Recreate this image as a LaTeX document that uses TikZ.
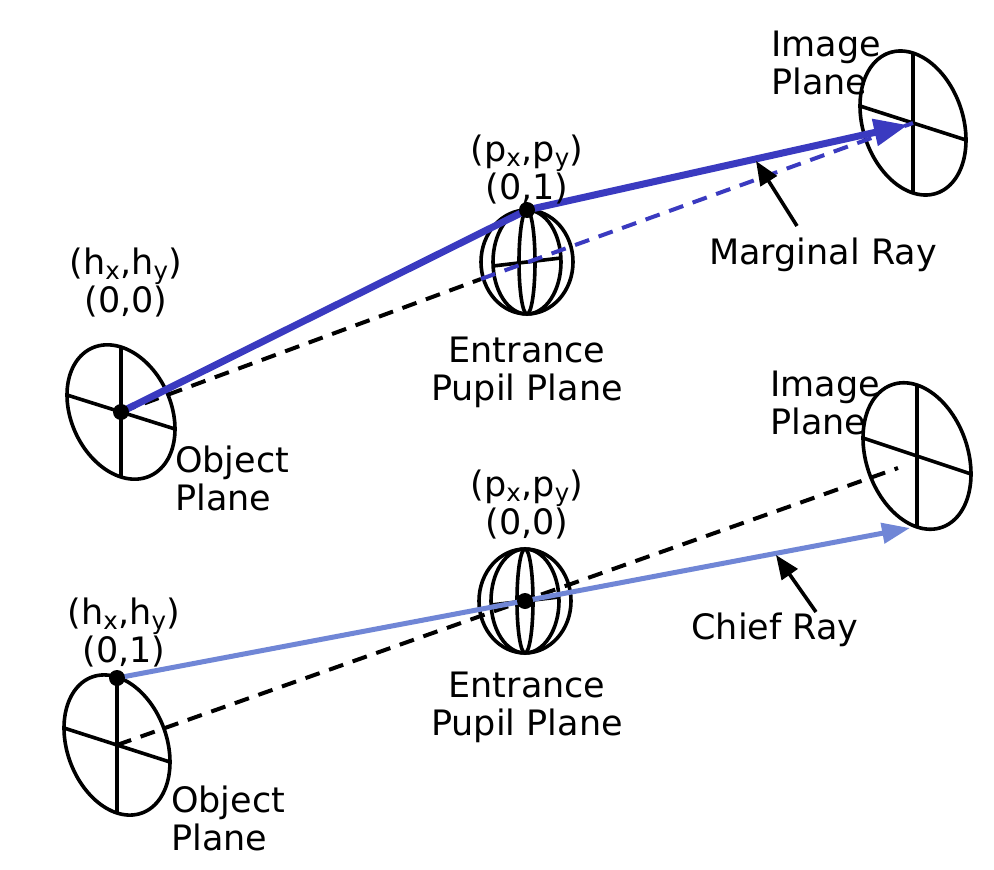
\documentclass[tikz,border=0pt]{standalone}
\usepackage{fontspec}
\setmainfont{DejaVu Sans}
\usetikzlibrary{positioning}
\usetikzlibrary{arrows.meta}
\definecolor{marginalblue}{RGB}{58,58,192}
\definecolor{chiefblue}{RGB}{112,134,214}
\tikzstyle{plane} = [draw, line width=3.6pt]
\tikzstyle{dot} = [circle, fill=black, inner sep=0pt, minimum size=16pt]
\tikzstyle{txt} = [font=\fontsize{35}{38}\selectfont, inner sep=0pt]
\tikzstyle{axis} = [draw, line width=4pt, dash pattern=on 15pt off 10pt]
\tikzstyle{marginal} = [draw=marginalblue, line width=7pt, -{Triangle[length=34pt,width=26pt]}]
\tikzstyle{chief} = [draw=chiefblue, line width=5pt, -{Triangle[length=28pt,width=20pt]}]
\tikzstyle{pointer} = [draw, line width=3.6pt, -{Triangle[length=24pt,width=19pt]}]
\tikzset{
  pics/disk/.style args={#1/#2/#3}{code={
    \draw[plane] plot[domain=0:354,samples=60,smooth cycle,variable=\t] ({#1*cos(\t)},{#2*cos(\t)-#3*sin(\t)});
    \draw[plane] (0,-#3) -- (0,#3) (-#1,-#2) -- (#1,#2);
  }},
  pics/pupil/.style={code={
    \foreach \rx in {46,34,8}
      \draw[plane] (0,0) ellipse [x radius=\rx, y radius=52];
    \draw[plane] (-34,4) -- (34,-4);
  }}
}

\begin{document}
\begin{tikzpicture}[x=1pt,y=-1pt]
    \fill[white] (0,0) rectangle (994,870);
    \useasboundingbox (0,0) rectangle (994,870);

    % marginal ray case
    \coordinate (o1) at (121,412);
    \coordinate (p1) at (527,262);
    \coordinate (p1top) at (527,210);
    \coordinate (p1in) at (481,279);
    \coordinate (i1) at (913,123);
    \coordinate (i1tip) at (908,125);
    \pic at (o1) {disk=54/17/65};
    \pic at (p1) {pupil};
    \pic at (i1) {disk=53/17/70};

    \draw [axis] (o1) -- (p1in);
    \draw [axis, marginalblue] (p1in) -- (i1);
    \draw [marginal] (o1) -- (p1top) -- (i1tip);
    \node [dot] (o1dot) at (o1) {};
    \node [dot] (p1dot) at (p1top) {};

    \node [txt, align=center] (o1lab) at (126,283) {(h\textsubscript{x},h\textsubscript{y})\\(0,0)};
    \node [txt, align=left, anchor=west] (o1name) at (175,478) {Object\\Plane};
    \node [txt, align=center] (p1lab) at (527,170) {(p\textsubscript{x},p\textsubscript{y})\\(0,1)};
    \node [txt, align=center] (p1name) at (527,372) {Entrance\\Pupil Plane};
    \node [txt, align=left, anchor=west] (i1name) at (771,63) {Image\\Plane};
    \node [txt] (mlab) at (823,255) {Marginal Ray};
    \coordinate (mtail) at (797,226);
    \coordinate (mtip) at (756,161);
    \draw [pointer] (mtail) -- (mtip);

    % chief ray case
    \coordinate (o2) at (117,745);
    \coordinate (o2top) at (117,678);
    \coordinate (p2) at (525,601);
    \coordinate (i2) at (917,456);
    \coordinate (i2end) at (898,468);
    \coordinate (i2tip) at (910,528);
    \pic at (o2) {disk=53/17/68};
    \pic at (p2) {pupil};
    \pic at (i2) {disk=54/18/71};

    \draw [axis] (o2) -- (i2end);
    \draw [chief] (o2top) -- (i2tip);
    \node [dot] (o2dot) at (o2top) {};
    \node [dot] (p2dot) at (p2) {};

    \node [txt, align=center] (o2lab) at (124,633) {(h\textsubscript{x},h\textsubscript{y})\\(0,1)};
    \node [txt, align=left, anchor=west] (o2name) at (171,818) {Object\\Plane};
    \node [txt, align=center] (p2lab) at (527,505) {(p\textsubscript{x},p\textsubscript{y})\\(0,0)};
    \node [txt, align=center] (p2name) at (527,707) {Entrance\\Pupil Plane};
    \node [txt, align=left, anchor=west] (i2name) at (770,403) {Image\\Plane};
    \node [txt] (clab) at (775,630) {Chief Ray};
    \coordinate (ctail) at (816,612);
    \coordinate (ctip) at (776,555);
    \draw [pointer] (ctail) -- (ctip);
\end{tikzpicture}
\end{document}
